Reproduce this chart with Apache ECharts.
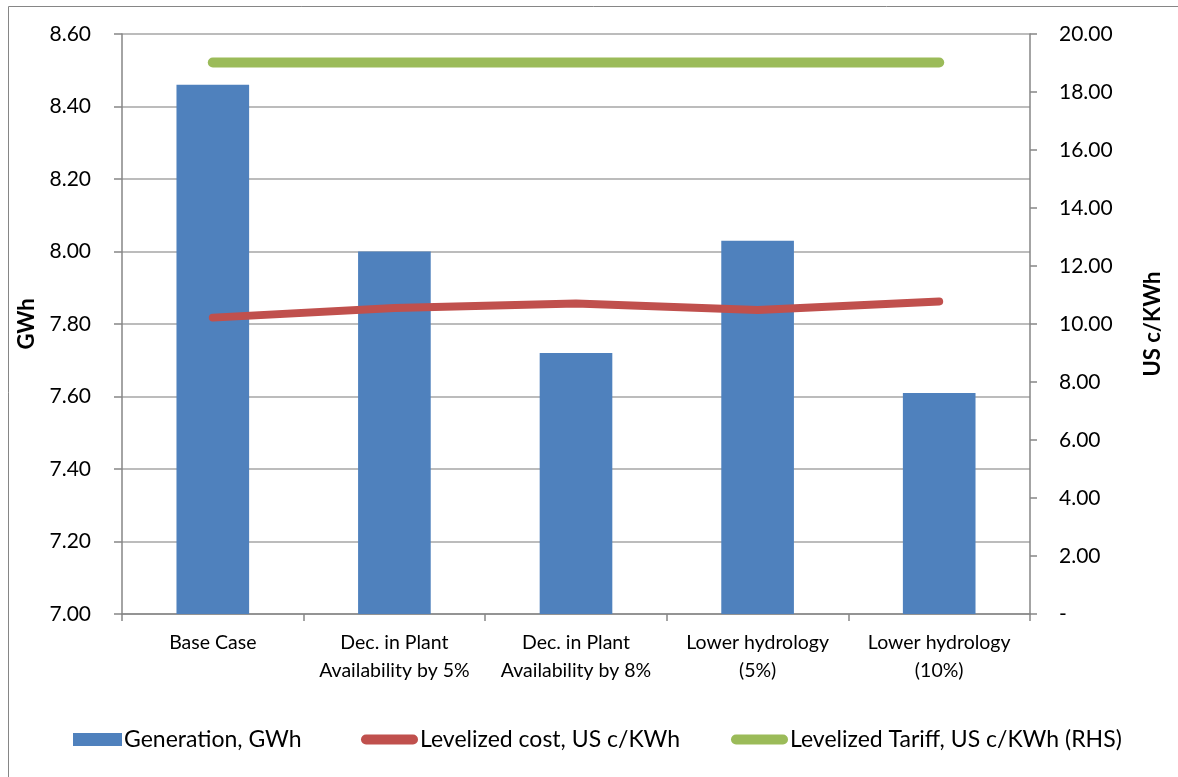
<!DOCTYPE html>
<html>
<head>
<meta charset="utf-8">
<script src="https://cdn.jsdelivr.net/npm/echarts@6/dist/echarts.min.js"></script>
<style>
  html, body { margin: 0; padding: 0; background: #fff; }
  #chart { width: 1178px; height: 777px; }
</style>
</head>
<body>
<div id="chart"></div>
<script>
// Scenario categories
const categories = [
  'Base Case',
  'Dec. in Plant\nAvailability by 5%',
  'Dec. in Plant\nAvailability by 8%',
  'Lower hydrology\n(5%)',
  'Lower hydrology\n(10%)'
];

// Annual generation (left axis, GWh)
const generation = [8.46, 8.00, 7.72, 8.03, 7.61];

// Levelized cost (right axis, US c/KWh)
const levelizedCost = [10.22, 10.55, 10.71, 10.48, 10.78];

// Levelized tariff (right axis, US c/KWh)
const levelizedTariff = [19.02, 19.02, 19.02, 19.02, 19.02];

const seriesNames = [
  'Generation, GWh',
  'Levelized cost, US c/KWh',
  'Levelized Tariff, US c/KWh (RHS)'
];

const FONT = 'Lato, "Open Sans", sans-serif';
const AXIS_GREY = '#868686';
const GRID_GREY = '#a6a6a6';

const chart = echarts.init(document.getElementById('chart'));

const legendBase = {
  orient: 'horizontal',
  top: 728,
  padding: 0,
  itemGap: 0,
  selectedMode: false,
  textStyle: { fontFamily: FONT, fontSize: 23, color: '#000', padding: [0, 0, 0, -3] }
};

const capsule = 'path://M5,0 L52,0 A5,5 0 0 1 52,10 L5,10 A5,5 0 0 1 5,0 Z';

chart.setOption({
  animation: false,
  backgroundColor: '#fff',
  textStyle: { fontFamily: FONT },
  graphic: [{
    type: 'rect',
    shape: { x: 8.5, y: 6.5, width: 1200, height: 800 },
    style: { fill: 'none', stroke: AXIS_GREY, lineWidth: 1 },
    silent: true
  }],
  grid: { left: 122, right: 148, top: 34, bottom: 163 },
  legend: [
    Object.assign({}, legendBase, {
      left: 73, data: [seriesNames[0]], icon: 'rect', itemWidth: 49, itemHeight: 13
    }),
    Object.assign({}, legendBase, {
      left: 361, data: [seriesNames[1]], icon: capsule, itemWidth: 57, itemHeight: 10
    }),
    Object.assign({}, legendBase, {
      left: 731, data: [seriesNames[2]], icon: capsule, itemWidth: 57, itemHeight: 10
    })
  ],
  xAxis: {
    type: 'category',
    data: categories,
    boundaryGap: true,
    axisLine: { lineStyle: { color: AXIS_GREY, width: 1.5 } },
    axisTick: { show: true, length: 7, alignWithLabel: false, lineStyle: { color: AXIS_GREY, width: 1.5 } },
    axisLabel: {
      interval: 0,
      margin: 15,
      fontFamily: FONT,
      fontSize: 19.5,
      lineHeight: 28,
      color: '#000'
    }
  },
  yAxis: [
    {
      type: 'value',
      min: 7.0,
      max: 8.6,
      interval: 0.2,
      position: 'left',
      name: 'GWh',
      nameLocation: 'middle',
      nameRotate: 90,
      nameGap: 84,
      nameTextStyle: { fontFamily: FONT, fontSize: 22, fontWeight: 'bold', color: '#000' },
      axisLine: { show: true, lineStyle: { color: AXIS_GREY, width: 1.5 } },
      axisTick: { show: true, length: 8, inside: false, lineStyle: { color: AXIS_GREY, width: 1.5 } },
      splitLine: { show: true, lineStyle: { color: GRID_GREY, width: 1.5 } },
      axisLabel: {
        margin: 31,
        fontFamily: FONT,
        fontSize: 21,
        color: '#000',
        formatter: v => v.toFixed(2)
      }
    },
    {
      type: 'value',
      min: 0,
      max: 20,
      interval: 2,
      position: 'right',
      name: 'US c/KWh',
      nameLocation: 'middle',
      nameRotate: 90,
      nameGap: 112,
      nameTextStyle: { fontFamily: FONT, fontSize: 22, fontWeight: 'bold', color: '#000' },
      axisLine: { show: true, lineStyle: { color: AXIS_GREY, width: 1.5 } },
      axisTick: { show: true, length: 7, inside: false, lineStyle: { color: AXIS_GREY, width: 1.5 } },
      splitLine: { show: false },
      axisLabel: {
        margin: 29,
        fontFamily: FONT,
        fontSize: 21,
        color: '#000',
        formatter: v => (v === 0 ? '-' : v.toFixed(2))
      }
    }
  ],
  series: [
    {
      name: seriesNames[0],
      type: 'bar',
      yAxisIndex: 0,
      data: generation,
      barWidth: '40%',
      itemStyle: { color: '#4F81BD' }
    },
    {
      name: seriesNames[1],
      type: 'line',
      yAxisIndex: 1,
      data: levelizedCost,
      symbol: 'none',
      itemStyle: { color: '#C0504D' },
      lineStyle: { color: '#C0504D', width: 8, cap: 'round', join: 'round' }
    },
    {
      name: seriesNames[2],
      type: 'line',
      yAxisIndex: 1,
      data: levelizedTariff,
      symbol: 'none',
      itemStyle: { color: '#9BBB59' },
      lineStyle: { color: '#9BBB59', width: 10, cap: 'round', join: 'round' }
    }
  ]
});
</script>
</body>
</html>
